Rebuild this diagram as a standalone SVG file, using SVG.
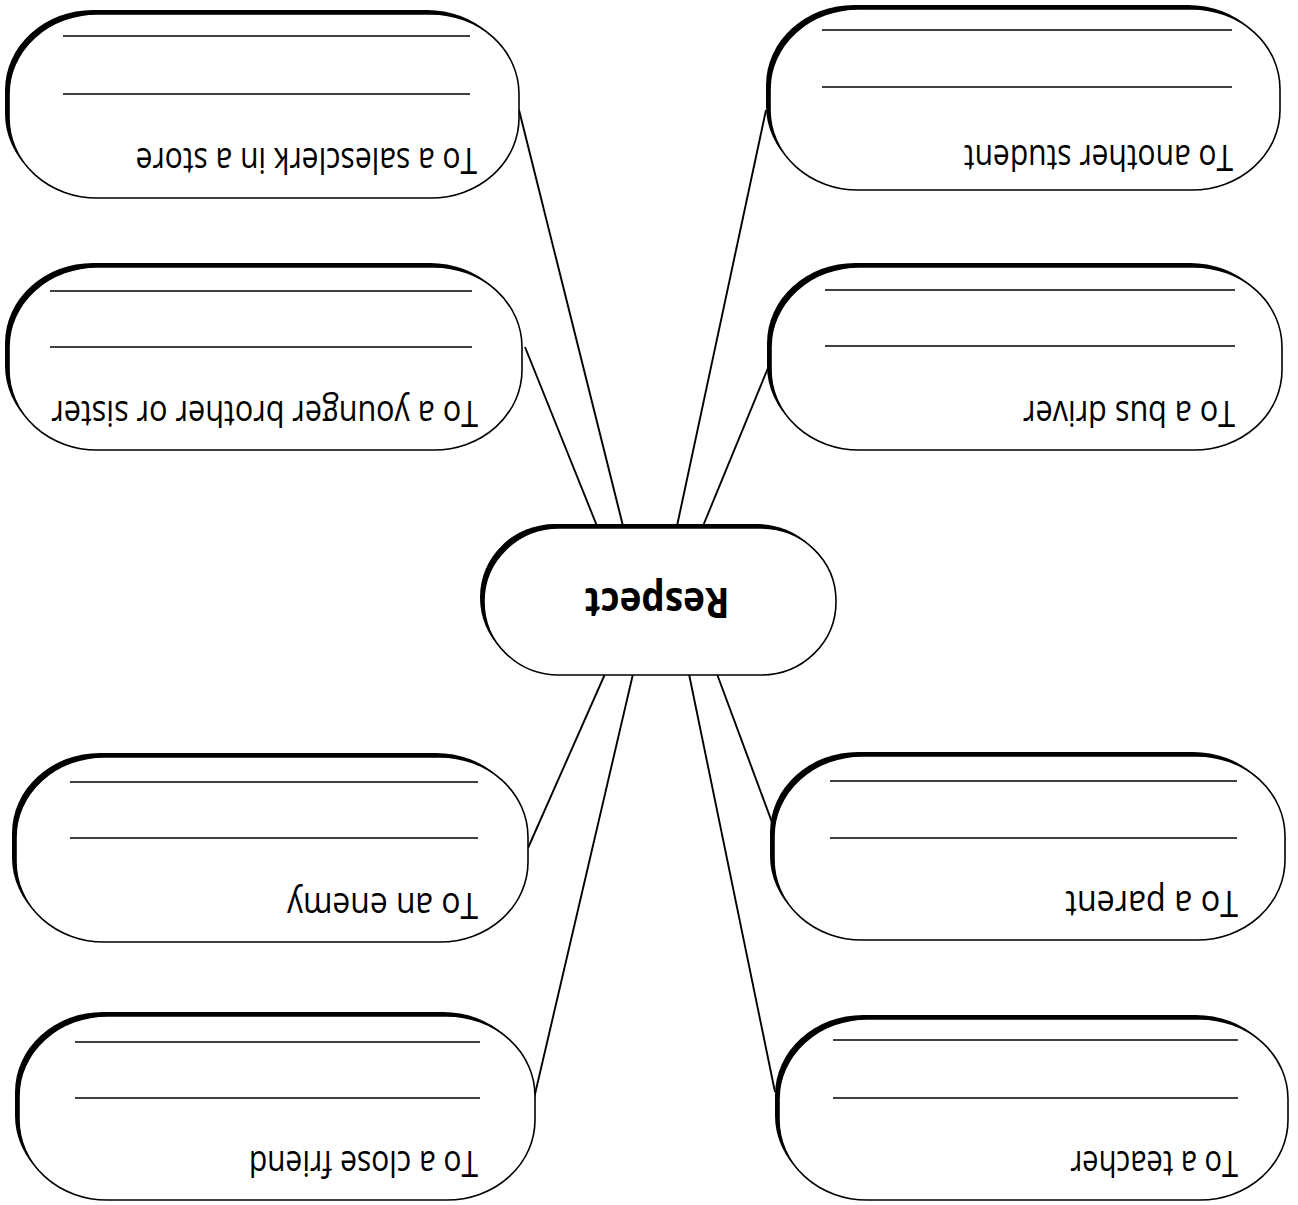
<svg xmlns="http://www.w3.org/2000/svg" width="1298" height="1205" viewBox="0 0 1298 1205">
<style>
  .bg { fill: #ffffff; }
  .shadow { fill: #000000; }
  .box { fill: #ffffff; stroke: #000000; stroke-width: 1.6; }
  .rule { stroke: #000000; stroke-width: 1.6; }
  .conn { stroke: #000000; stroke-width: 1.9; fill: none; }
  .lbl { font-family: "Open Sans", "DejaVu Sans", sans-serif; font-size: 30px; fill: #000000; }
  .title { font-family: "Open Sans", "DejaVu Sans", sans-serif; font-size: 37px; font-weight: bold; fill: #000000; }
</style>
<rect class="bg" x="0" y="0" width="1298" height="1205"/>

<g id="connectors">
  <line class="conn" x1="519" y1="110" x2="623" y2="526"/>
  <line class="conn" x1="525" y1="347" x2="597" y2="526"/>
  <line class="conn" x1="766" y1="110" x2="677" y2="526"/>
  <line class="conn" x1="768" y1="368" x2="703" y2="526"/>
  <line class="conn" x1="528" y1="848" x2="605" y2="674"/>
  <line class="conn" x1="532" y1="1107" x2="633" y2="674"/>
  <line class="conn" x1="773" y1="825" x2="717" y2="674"/>
  <line class="conn" x1="775" y1="1092" x2="689" y2="674"/>
</g>

<g id="node-respect">
  <rect class="shadow" x="480" y="524" width="352" height="147" rx="75" ry="73"/>
  <rect class="box" x="484" y="528" width="352" height="147" rx="75" ry="73"/>
  <text class="title" x="0" y="0" text-anchor="middle" transform="translate(657 588) rotate(180) scale(1 1.1)">Respect</text>
</g>

<g id="node-salesclerk">
  <rect class="shadow" x="5" y="10" width="510" height="184" rx="88" ry="80"/>
  <rect class="box" x="9" y="14" width="510" height="184" rx="88" ry="80"/>
  <line class="rule" x1="63" y1="36" x2="470" y2="36"/>
  <line class="rule" x1="63" y1="94" x2="470" y2="94"/>
  <text class="lbl" x="0" y="0" transform="translate(477 148) rotate(180) scale(1 1.22)">To a salesclerk in a store</text>
</g>

<g id="node-another-student">
  <rect class="shadow" x="766" y="5" width="510" height="181" rx="88" ry="80"/>
  <rect class="box" x="770" y="9" width="510" height="181" rx="88" ry="80"/>
  <line class="rule" x1="822" y1="30" x2="1232" y2="30"/>
  <line class="rule" x1="822" y1="87" x2="1232" y2="87"/>
  <text class="lbl" x="0" y="0" transform="translate(1233 145) rotate(180) scale(1 1.22)">To another student</text>
</g>

<g id="node-younger-sibling">
  <rect class="shadow" x="5" y="263" width="513" height="183" rx="88" ry="80"/>
  <rect class="box" x="9" y="267" width="513" height="183" rx="88" ry="80"/>
  <line class="rule" x1="50" y1="291" x2="472" y2="291"/>
  <line class="rule" x1="50" y1="347" x2="472" y2="347"/>
  <text class="lbl" x="0" y="0" transform="translate(478 401) rotate(180) scale(1.02 1.22)">To a younger brother or sister</text>
</g>

<g id="node-bus-driver">
  <rect class="shadow" x="767" y="263" width="511" height="183" rx="88" ry="80"/>
  <rect class="box" x="771" y="267" width="511" height="183" rx="88" ry="80"/>
  <line class="rule" x1="825" y1="290" x2="1235" y2="290"/>
  <line class="rule" x1="825" y1="346" x2="1235" y2="346"/>
  <text class="lbl" x="0" y="0" transform="translate(1235 401) rotate(180) scale(1.02 1.22)">To a bus driver</text>
</g>

<g id="node-enemy">
  <rect class="shadow" x="12" y="753" width="512" height="185" rx="88" ry="80"/>
  <rect class="box" x="16" y="757" width="512" height="185" rx="88" ry="80"/>
  <line class="rule" x1="70" y1="782" x2="478" y2="782"/>
  <line class="rule" x1="70" y1="838" x2="478" y2="838"/>
  <text class="lbl" x="0" y="0" transform="translate(478 893) rotate(180) scale(1.06 1.22)">To an enemy</text>
</g>

<g id="node-parent">
  <rect class="shadow" x="770" y="752" width="511" height="184" rx="88" ry="80"/>
  <rect class="box" x="774" y="756" width="511" height="184" rx="88" ry="80"/>
  <line class="rule" x1="830" y1="781" x2="1237" y2="781"/>
  <line class="rule" x1="830" y1="838" x2="1237" y2="838"/>
  <text class="lbl" x="0" y="0" transform="translate(1238 891) rotate(180) scale(1.08 1.22)">To a parent</text>
</g>

<g id="node-close-friend">
  <rect class="shadow" x="15" y="1012" width="516" height="184" rx="88" ry="80"/>
  <rect class="box" x="19" y="1016" width="516" height="184" rx="88" ry="80"/>
  <line class="rule" x1="75" y1="1042" x2="480" y2="1042"/>
  <line class="rule" x1="75" y1="1098" x2="480" y2="1098"/>
  <text class="lbl" x="0" y="0" transform="translate(478 1151) rotate(180) scale(1 1.22)">To a close friend</text>
</g>

<g id="node-teacher">
  <rect class="shadow" x="775" y="1015" width="509" height="181" rx="88" ry="80"/>
  <rect class="box" x="779" y="1019" width="509" height="181" rx="88" ry="80"/>
  <line class="rule" x1="833" y1="1040" x2="1238" y2="1040"/>
  <line class="rule" x1="833" y1="1098" x2="1238" y2="1098"/>
  <text class="lbl" x="0" y="0" transform="translate(1238 1151) rotate(180) scale(0.97 1.22)">To a teacher</text>
</g>
</svg>
